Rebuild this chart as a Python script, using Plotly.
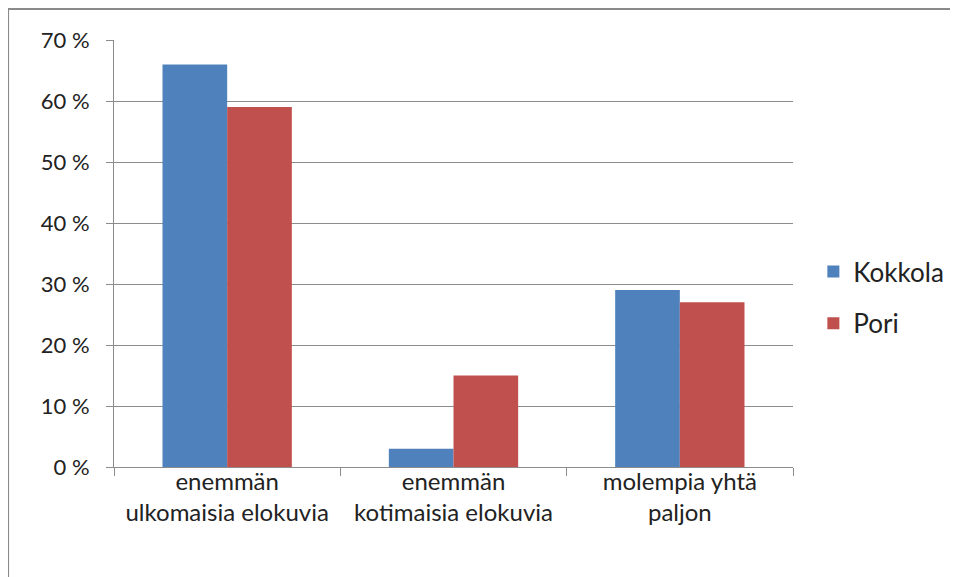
import plotly.graph_objects as go

categories = ["enemmän<br>ulkomaisia elokuvia", "enemmän<br>kotimaisia elokuvia", "molempia yhtä<br>paljon"]
kokkola = [66, 3, 29]
pori = [59, 15, 27]

BLUE = "#4F81BD"
RED = "#C0504D"
GRID = "#8C8C8C"
FAMILY = "Lato, Arial, sans-serif"
TEXT = "#222222"

fig = go.Figure()
fig.add_trace(go.Bar(x=categories, y=kokkola, name="Kokkola", marker_color=BLUE,
                     marker_line_width=0, legendgroup="a"))
fig.add_trace(go.Bar(x=categories, y=pori, name="Pori", marker_color=RED,
                     marker_line_width=0, legendgroup="b"))

# page has an 8px body margin, so margins are shifted to keep the plot area at 114-793 / 40-467
fig.update_layout(
    width=958, height=577,
    margin=dict(l=106, r=173, t=32, b=118),
    paper_bgcolor="white", plot_bgcolor="white",
    font=dict(family=FAMILY, size=24, color=TEXT),
    barmode="group", bargap=0.4286, bargroupgap=0,
    legend=dict(x=1.03, y=0.397, xanchor="left", yanchor="middle",
                tracegroupgap=15, font=dict(size=26), itemwidth=30),
    shapes=[dict(type="rect", xref="paper", yref="paper",
                 x0=-0.156, x1=1.32, y0=-0.33, y1=1.0726,
                 line=dict(color="#8A8A8A", width=2), layer="below")],
)
fig.update_yaxes(range=[0, 70], dtick=10, ticksuffix=" %", showgrid=True,
                 gridcolor=GRID, gridwidth=1, showline=True, linecolor=GRID,
                 ticks="outside", ticklen=7, tickcolor=GRID, zeroline=False,
                 ticklabelstandoff=12,
                 tickfont=dict(family=FAMILY, size=22, color=TEXT))
fig.update_xaxes(showline=True, linecolor=GRID, ticks="outside", ticklen=8,
                 tickcolor=GRID, tickson="boundaries", ticklabelstandoff=-7,
                 tickfont=dict(family=FAMILY, size=24, color=TEXT))

fig.write_html("out.html")
